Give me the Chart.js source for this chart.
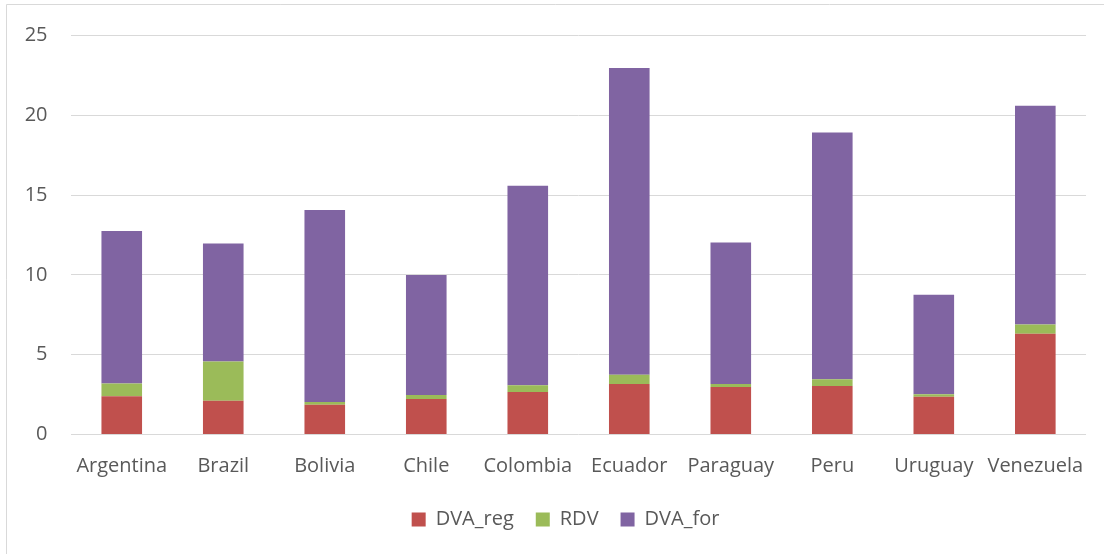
<!DOCTYPE html>
<html>
<head>
<meta charset="utf-8">
<script src="https://cdn.jsdelivr.net/npm/chart.js@4.4.1/dist/chart.umd.min.js"></script>
<style>
  html, body { margin: 0; padding: 0; background: #ffffff; }
  #wrap { position: relative; width: 1104px; height: 554px; }
  canvas { display: block; }
</style>
</head>
<body>
<div id="wrap"><canvas id="c" width="1104" height="554"></canvas></div>
<script>
const categories = ["Argentina", "Brazil", "Bolivia", "Chile", "Colombia", "Ecuador", "Paraguay", "Peru", "Uruguay", "Venezuela"];
const dvaReg = [2.40, 2.11, 1.86, 2.23, 2.67, 3.17, 2.98, 3.04, 2.36, 6.31];
const rdv    = [0.79, 2.47, 0.17, 0.25, 0.42, 0.58, 0.19, 0.42, 0.16, 0.58];
const dvaFor = [9.56, 7.39, 12.03, 7.52, 12.50, 19.22, 8.86, 15.46, 6.24, 13.71];
const seriesNames = ["DVA_reg", "RDV", "DVA_for"];
const yTicks = [0, 5, 10, 15, 20, 25];

const FONT = { family: "'Open Sans', sans-serif", size: 20 };
const TEXT = "#595959";

const frame = {
  id: "frame",
  afterLayout(chart) {
    const lg = chart.legend;
    if (lg) { lg.left += 22; lg.right += 22; }
  },
  beforeDraw(chart) {
    const ctx = chart.ctx;
    ctx.save();
    ctx.fillStyle = "#ffffff";
    ctx.fillRect(0, 0, chart.width, chart.height);
    ctx.strokeStyle = "#d9d9d9";
    ctx.lineWidth = 1;
    ctx.beginPath();
    ctx.moveTo(6.5, chart.height);
    ctx.lineTo(6.5, 4.5);
    ctx.lineTo(chart.width, 4.5);
    ctx.stroke();
    ctx.restore();
  }
};

new Chart(document.getElementById("c"), {
  type: "bar",
  data: {
    labels: categories,
    datasets: [
      { label: seriesNames[0], data: dvaReg, backgroundColor: "#c0504d" },
      { label: seriesNames[1], data: rdv, backgroundColor: "#9bbb59" },
      { label: seriesNames[2], data: dvaFor, backgroundColor: "#8064a2" }
    ]
  },
  options: {
    responsive: false,
    animation: false,
    devicePixelRatio: 1,
    layout: { padding: { top: 33.5, right: 17, bottom: 14.5, left: 0 } },
    datasets: { bar: { barPercentage: 0.4, categoryPercentage: 1.0 } },
    plugins: {
      legend: {
        position: "bottom",
        labels: { boxWidth: 14, boxHeight: 14, padding: 22, color: TEXT, font: FONT }
      },
      tooltip: { enabled: false }
    },
    scales: {
      x: {
        stacked: true,
        grid: { display: false, drawTicks: false },
        border: { display: false },
        ticks: { color: TEXT, font: FONT, padding: 20, maxRotation: 0, autoSkip: false },
        afterFit(scale) { scale.height = 53; }
      },
      y: {
        stacked: true,
        min: 0,
        max: 25,
        afterBuildTicks(scale) { scale.ticks = yTicks.map(v => ({ value: v })); },
        grid: { color: "#d9d9d9", lineWidth: 1, drawTicks: false },
        border: { display: false },
        ticks: { color: TEXT, font: FONT, padding: 23.5 },
        afterFit(scale) { scale.width = 71; }
      }
    }
  },
  plugins: [frame]
});
</script>
</body>
</html>
